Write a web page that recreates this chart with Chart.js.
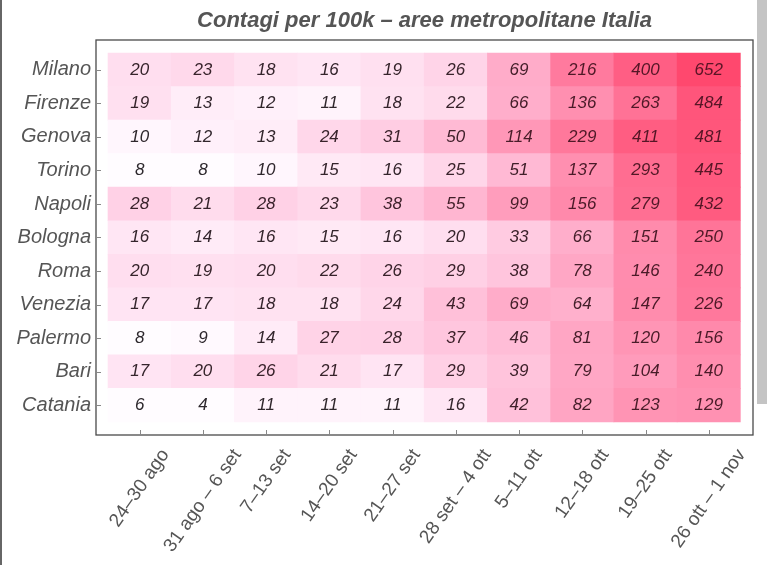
<!DOCTYPE html>
<html>
<head>
<meta charset="utf-8">
<script src="https://cdn.jsdelivr.net/npm/chart.js@4.4.0/dist/chart.umd.min.js"></script>
<style>
  html, body { margin: 0; padding: 0; background: #fff; }
  #wrap { position: relative; width: 767px; height: 565px; overflow: hidden; }
  canvas { position: absolute; left: 0; top: 0; }
  .edge { position: absolute; left: 0; top: 0; width: 2px; height: 565px; background: #666; }
  .strip { position: absolute; right: 0; top: 0; width: 10px; height: 404px; background: #c4c4c4; }
</style>
</head>
<body>
<div id="wrap">
  <canvas id="heat" width="767" height="565"></canvas>
  <div class="edge"></div>
  <div class="strip"></div>
</div>
<script>
const title = 'Contagi per 100k – aree metropolitane Italia';

const cities = ['Milano', 'Firenze', 'Genova', 'Torino', 'Napoli', 'Bologna',
                'Roma', 'Venezia', 'Palermo', 'Bari', 'Catania'];
const weeks = ['24–30 ago', '31 ago – 6 set', '7–13 set', '14–20 set', '21–27 set',
               '28 set – 4 ott', '5–11 ott', '12–18 ott', '19–25 ott', '26 ott – 1 nov'];

const milano  = [20, 23, 18, 16, 19, 26, 69, 216, 400, 652];
const firenze = [19, 13, 12, 11, 18, 22, 66, 136, 263, 484];
const genova  = [10, 12, 13, 24, 31, 50, 114, 229, 411, 481];
const torino  = [8, 8, 10, 15, 16, 25, 51, 137, 293, 445];
const napoli  = [28, 21, 28, 23, 38, 55, 99, 156, 279, 432];
const bologna = [16, 14, 16, 15, 16, 20, 33, 66, 151, 250];
const roma    = [20, 19, 20, 22, 26, 29, 38, 78, 146, 240];
const venezia = [17, 17, 18, 18, 24, 43, 69, 64, 147, 226];
const palermo = [8, 9, 14, 27, 28, 37, 46, 81, 120, 156];
const bari    = [17, 20, 26, 21, 17, 29, 39, 79, 104, 140];
const catania = [6, 4, 11, 11, 11, 16, 42, 82, 123, 129];

const rows = [milano, firenze, genova, torino, napoli, bologna, roma, venezia, palermo, bari, catania];

// one floating bar per cell: x = week index, y spans the city row
const cells = [];
rows.forEach((row, i) => {
  row.forEach((v, j) => cells.push({ x: j, y: [i - 0.5, i + 0.5], v: v }));
});

function level(v) {
  const t = (Math.log10(v) - 0.9) / 1.91;
  return Math.min(1, Math.max(0, t));
}

function cellColor(v) {
  const t = level(v);
  const g = Math.round(252 - 180 * Math.pow(t, 1.15));
  const b = Math.round(255 - 145 * Math.pow(t, 1.4));
  return `rgb(255, ${g}, ${b})`;
}

function textColor(v) {
  const t = level(v);
  return `rgb(${Math.round(45 + 45 * t)}, ${Math.round(40 - 20 * t)}, ${Math.round(45 - 8 * t)})`;
}

const FONT = '"Liberation Sans", Arial, sans-serif';

const cellText = {
  id: 'cellText',
  afterDatasetsDraw(chart) {
    const ctx = chart.ctx;
    const meta = chart.getDatasetMeta(0);
    ctx.save();
    ctx.font = 'italic 17px ' + FONT;
    ctx.textAlign = 'center';
    ctx.textBaseline = 'middle';
    meta.data.forEach((bar, k) => {
      const c = cells[k];
      ctx.fillStyle = textColor(c.v);
      ctx.fillText(String(c.v), bar.x, (bar.y + bar.base) / 2);
    });
    ctx.restore();
  }
};

// frame, inward ticks, centred rotated week labels, title
const frame = {
  id: 'frame',
  afterDraw(chart) {
    const { ctx, chartArea: a } = chart;
    const x = chart.scales.x, y = chart.scales.y;
    ctx.save();
    ctx.strokeStyle = '#4a4a4a';
    ctx.lineWidth = 1.3;
    ctx.strokeRect(a.left, a.top, a.right - a.left, a.bottom - a.top);

    ctx.strokeStyle = '#888';
    ctx.lineWidth = 1;
    ctx.beginPath();
    y.ticks.forEach((t, i) => {
      const py = Math.round(y.getPixelForTick(i)) + 0.5;
      ctx.moveTo(a.left, py);
      ctx.lineTo(a.left + 5, py);
    });
    x.ticks.forEach((t, i) => {
      const px = Math.round(x.getPixelForTick(i)) + 0.5;
      ctx.moveTo(px, a.bottom);
      ctx.lineTo(px, a.bottom - 5);
    });
    ctx.stroke();

    const ang = 55 * Math.PI / 180;
    ctx.font = '19px ' + FONT;
    ctx.fillStyle = '#555';
    ctx.textAlign = 'center';
    ctx.textBaseline = 'middle';
    weeks.forEach((w, i) => {
      const px = x.getPixelForTick(i);
      const tw = ctx.measureText(w).width;
      const cy = a.bottom + 11 + (tw * Math.sin(ang) + 19 * Math.cos(ang)) / 2;
      ctx.save();
      ctx.translate(px, cy);
      ctx.rotate(-ang);
      ctx.fillText(w, 0, 0);
      ctx.restore();
    });

    ctx.font = 'italic bold 22px ' + FONT;
    ctx.fillStyle = '#555';
    ctx.textBaseline = 'alphabetic';
    ctx.fillText(title, (a.left + a.right) / 2, 27);
    ctx.restore();
  }
};

new Chart(document.getElementById('heat'), {
  type: 'bar',
  data: {
    datasets: [{
      data: cells,
      backgroundColor: ctx => ctx.raw ? cellColor(ctx.raw.v) : '#fff',
      borderWidth: 0,
      barPercentage: 1,
      categoryPercentage: 1,
    }]
  },
  options: {
    responsive: false,
    animation: false,
    layout: { padding: { top: 40, right: 14, bottom: 0, left: 0 } },
    plugins: {
      legend: { display: false },
      tooltip: { enabled: false },
      title: { display: false },
    },
    scales: {
      x: {
        type: 'linear',
        offset: false,
        min: -0.69,
        max: 9.7,
        afterBuildTicks: s => { s.ticks = weeks.map((w, j) => ({ value: j })); },
        afterFit: s => { s.height = 130; },
        ticks: { display: false },
        grid: { display: false, offset: false },
        border: { display: false },
      },
      y: {
        type: 'linear',
        reverse: true,
        min: -0.89,
        max: 10.89,
        afterBuildTicks: s => { s.ticks = cities.map((c, i) => ({ value: i })); },
        afterFit: s => { s.width = 96; },
        ticks: {
          autoSkip: false,
          padding: 5,
          color: '#555',
          font: { family: FONT, size: 20, style: 'italic' },
          callback: (v, i) => cities[i],
        },
        grid: { display: false, drawTicks: false },
        border: { display: false },
      }
    }
  },
  plugins: [cellText, frame]
});
</script>
</body>
</html>
